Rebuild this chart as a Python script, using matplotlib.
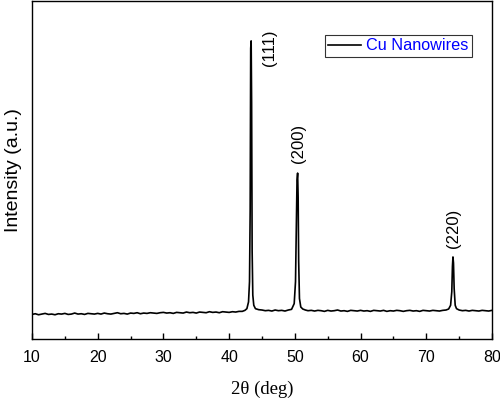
import matplotlib
matplotlib.use("Agg")
import matplotlib.pyplot as plt
from matplotlib.ticker import MultipleLocator

# 2theta (deg) and intensity (a.u.)
two_theta = [10.0, 10.5, 11.0, 11.5, 12.0, 12.5, 13.0, 13.5, 14.0, 14.5,
             15.0, 15.5, 16.0, 16.5, 17.0, 17.5, 18.0, 18.5, 19.0, 19.5,
             20.0, 20.5, 21.0, 21.5, 22.0, 22.5, 23.0, 23.5, 24.0, 24.5,
             25.0, 25.5, 26.0, 26.5, 27.0, 27.5, 28.0, 28.5, 29.0, 29.5,
             30.0, 30.5, 31.0, 31.5, 32.0, 32.5, 33.0, 33.5, 34.0, 34.5,
             35.0, 35.5, 36.0, 36.5, 37.0, 37.5, 38.0, 38.5, 39.0, 39.5,
             40.0, 40.5, 41.0, 41.5, 42.0, 42.4, 42.7, 42.95, 43.1, 43.2,
             43.28, 43.35, 43.42, 43.5, 43.6, 43.75, 44.0, 44.5, 45.0, 45.5,
             46.0, 46.5, 47.0, 47.5, 48.0, 48.5, 49.0, 49.5, 49.9, 50.1,
             50.22, 50.33, 50.42, 50.5, 50.58, 50.7, 50.9, 51.2, 51.6, 52.0,
             52.5, 53.0, 53.5, 54.0, 54.5, 55.0, 55.5, 56.0, 56.5, 57.0,
             57.5, 58.0, 58.5, 59.0, 59.5, 60.0, 60.5, 61.0, 61.5, 62.0,
             62.5, 63.0, 63.5, 64.0, 64.5, 65.0, 65.5, 66.0, 66.5, 67.0,
             67.5, 68.0, 68.5, 69.0, 69.5, 70.0, 70.5, 71.0, 71.5, 72.0,
             72.5, 73.0, 73.4, 73.7, 73.88, 73.98, 74.06, 74.14, 74.24, 74.4,
             74.6, 75.0, 75.5, 76.0, 76.5, 77.0, 77.5, 78.0, 78.5, 79.0,
             79.5, 80.0]
intensity = [73, 75, 72, 74, 76, 73, 74, 72, 75, 74,
             76, 73, 74, 77, 74, 75, 73, 76, 75, 74,
             76, 74, 77, 75, 74, 76, 78, 75, 76, 74,
             77, 76, 78, 75, 77, 76, 78, 77, 76, 78,
             79, 77, 78, 76, 79, 78, 77, 80, 78, 79,
             77, 80, 79, 78, 81, 79, 80, 78, 81, 80,
             79, 81, 80, 82, 82, 85, 90, 110, 170, 380,
             860, 882, 700, 260, 130, 100, 90, 87, 86, 84,
             85, 83, 86, 84, 85, 83, 86, 88, 105, 170,
             330, 470, 491, 420, 230, 120, 95, 89, 86, 84,
             85, 83, 85, 84, 82, 85, 83, 84, 86, 83,
             84, 82, 85, 84, 83, 85, 83, 84, 82, 85,
             84, 83, 85, 82, 84, 83, 85, 84, 82, 84,
             85, 83, 84, 82, 85, 84, 83, 85, 84, 83,
             85, 86, 89, 100, 140, 215, 243, 225, 150, 100,
             90, 86, 84, 85, 83, 85, 84, 83, 85, 84,
             83, 85]

peak_labels = ["(111)", "(200)", "(220)"]
label_x = [46.2, 50.5, 74.1]
label_y = [917, 521, 269]
label_va = ["top", "bottom", "bottom"]

fig = plt.figure(figsize=(5.0, 3.98), dpi=100)
ax = fig.add_axes([0.064, 0.148, 0.920, 0.8495])
ax.plot(two_theta, intensity, color="black", lw=1.2, label="Cu Nanowires")
ax.set_xlim(10, 80)
ax.set_ylim(0, 1000)

sans = ["Liberation Sans", "DejaVu Sans"]
ax.xaxis.set_major_locator(MultipleLocator(10))
ax.xaxis.set_minor_locator(MultipleLocator(5))
ax.tick_params(axis="x", which="major", direction="in", length=4, width=1,
               labelsize=11.5, pad=8)
ax.tick_params(axis="x", which="minor", direction="in", length=2.5, width=1)
for lab in ax.get_xticklabels():
    lab.set_family(sans)
ax.set_yticks([])
for s in ax.spines.values():
    s.set_linewidth(1.0)

ax.set_xlabel("2θ (deg)", family=["Liberation Serif", "DejaVu Serif"],
              fontsize=13.5, labelpad=11)
ax.set_ylabel("Intensity (a.u.)", family=sans, fontsize=14, labelpad=7)

for lab, x, y, va in zip(peak_labels, label_x, label_y, label_va):
    ax.text(x, y, lab, rotation=90, ha="center", va=va,
            family=sans, fontsize=12)

leg = ax.legend(loc="upper right", bbox_to_anchor=(0.956, 0.9), frameon=True,
                fancybox=False, edgecolor="black", prop={"family": sans, "size": 11.7},
                handlelength=2.0, handletextpad=0.3, borderpad=0.22,
                borderaxespad=0)
leg.get_frame().set_linewidth(0.8)
for t in leg.get_texts():
    t.set_color("blue")

fig.savefig("out.png", dpi=100)
